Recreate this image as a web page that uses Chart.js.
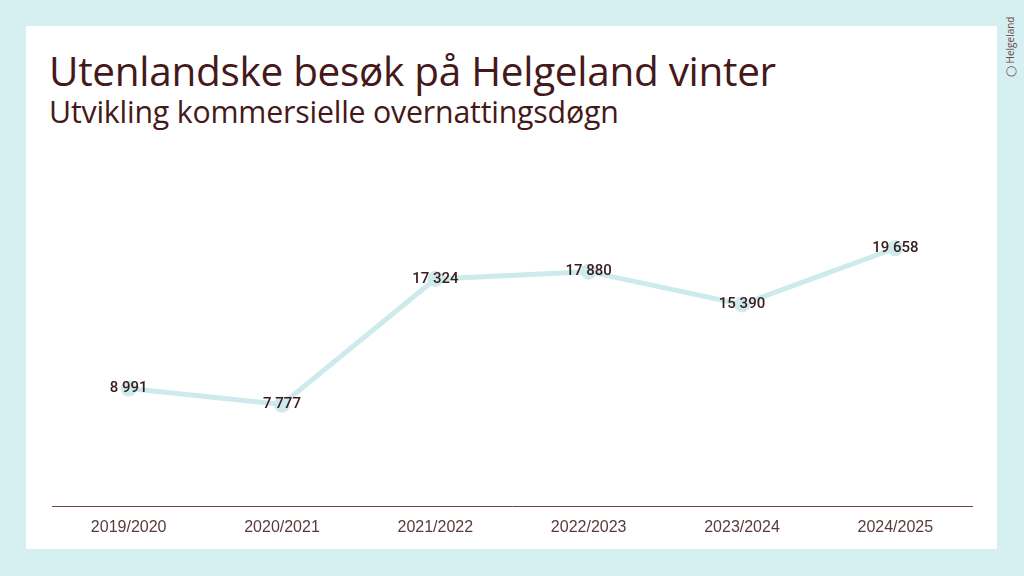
<!DOCTYPE html>
<html>
<head>
<meta charset="utf-8">
<script src="https://cdn.jsdelivr.net/npm/chart.js"></script>
<style>
  html, body { margin: 0; padding: 0; }
  body { width: 1024px; height: 576px; background: #d6eff1; position: relative; overflow: hidden; font-family: "Open Sans", sans-serif; }
  #card { position: absolute; left: 26px; top: 26px; width: 971px; height: 523px; background: #fff; }
  #title { position: absolute; left: 49px; top: 51px; font-size: 40.5px; line-height: 1; color: #45191a; white-space: nowrap; letter-spacing: -0.3px; }
  #subtitle { position: absolute; left: 49px; top: 97px; font-size: 30.3px; line-height: 1; color: #45191a; white-space: nowrap; letter-spacing: -0.2px; }
  #logo { position: absolute; left: 1003px; top: 77px; transform-origin: 0 0; transform: rotate(-90deg); font-size: 10px; color: #6b4a4a; white-space: nowrap; }
  #wrap { position: absolute; left: 0; top: 0; width: 1024px; height: 576px; }
</style>
</head>
<body>
<div id="card"></div>
<div id="title">Utenlandske besøk på Helgeland vinter</div>
<div id="subtitle">Utvikling kommersielle overnattingsdøgn</div>
<div id="logo">&#9711; Helgeland</div>
<div id="wrap"><canvas id="myChart"></canvas></div>
<script>
// Data
const seasons = ['2019/2020', '2020/2021', '2021/2022', '2022/2023', '2023/2024', '2024/2025'];
const nights = [8991, 7777, 17324, 17880, 15390, 19658];

function fmt(v) {
  return String(v).replace(/\B(?=(\d{3})+(?!\d))/g, ' ');
}

// draws the value on top of each point
const valueLabels = {
  id: 'valueLabels',
  afterDatasetsDraw(chart) {
    const ctx = chart.ctx;
    const meta = chart.getDatasetMeta(0);
    ctx.save();
    ctx.font = '500 15px Roboto, "Liberation Sans", sans-serif';
    ctx.fillStyle = '#3a1a1a';
    ctx.textAlign = 'center';
    ctx.textBaseline = 'middle';
    meta.data.forEach((pt, i) => {
      ctx.fillText(fmt(nights[i]), pt.x, pt.y);
    });
    ctx.restore();
  }
};

const ctx = document.getElementById('myChart').getContext('2d');
new Chart(ctx, {
  type: 'line',
  data: {
    labels: seasons,
    datasets: [{
      data: nights,
      borderColor: '#cdeaec',
      backgroundColor: '#cdeaec',
      borderWidth: 5,
      pointRadius: 8,
      pointBorderWidth: 0,
      tension: 0,
    }],
  },
  options: {
    responsive: true,
    maintainAspectRatio: false,
    animation: false,
    layout: { padding: { left: 52, right: 52, top: 178, bottom: 28 } },
    plugins: {
      legend: { display: false },
      tooltip: { enabled: false },
    },
    scales: {
      y: {
        display: false,
        min: 0,
        max: 25000,
      },
      x: {
        offset: true,
        grid: { display: false, drawTicks: false },
        border: { display: true, color: '#6a4646', width: 1 },
        ticks: {
          color: '#5a3a3a',
          font: { family: '"Liberation Sans", Arial, sans-serif', size: 16 },
          padding: 11,
        },
      },
    },
  },
  plugins: [valueLabels],
});
</script>
</body>
</html>
